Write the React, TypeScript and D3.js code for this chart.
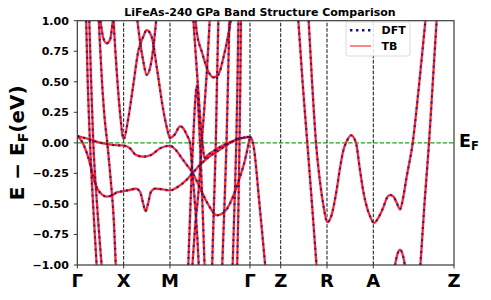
import React, { useEffect, useRef } from "react";
import * as d3 from "d3";

// k-path positions of the high-symmetry points (units of |ΓX|)
const kPoints = [0, 1, 2, 3.726, 4.388, 5.387, 6.386, 8.127];
const kLabels = ["Γ", "X", "M", "Γ", "Z", "R", "A", "Z"];
const yTicks = [-1, -0.75, -0.5, -0.25, 0, 0.25, 0.5, 0.75, 1];

// bands: [k, E - EF]
const bandH = [[0, 0.055], [0.101, 0.01], [0.203, -0.08], [0.274, -0.17], [0.345, -0.28], [0.425, -0.37], [0.526, -0.42], [0.634, -0.44], [0.749, -0.43], [0.857, -0.405], [1.0, -0.395], [1.137, -0.385], [1.266, -0.375], [1.353, -0.4], [1.417, -0.49], [1.471, -0.56], [1.525, -0.5], [1.59, -0.4], [1.676, -0.375], [1.827, -0.38], [2.0, -0.39], [2.129, -0.37], [2.324, -0.315], [2.518, -0.235], [2.647, -0.18], [2.777, -0.135], [2.934, -0.09], [3.079, -0.055], [3.251, -0.01], [3.51, 0.035], [3.726, 0.05]];
const bandF = [[0, 0.055], [0.203, 0.035], [0.419, 0.009], [0.634, -0.01], [0.857, -0.02], [1.0, -0.022], [1.137, -0.045], [1.266, -0.1], [1.417, -0.113], [1.59, -0.1], [1.784, -0.045], [2.0, -0.024], [2.129, -0.06], [2.252, -0.124], [2.36, -0.18], [2.468, -0.233], [2.615, -0.343], [2.826, -0.506], [3.008, -0.593], [3.187, -0.56], [3.402, -0.4], [3.51, -0.28], [3.618, -0.14], [3.726, 0.05]];
const bandXM = [[0.777, 1.05], [0.813, 0.8], [0.857, 0.55], [0.921, 0.25], [1.0, 0.03], [1.1, 0.2], [1.208, 0.475], [1.316, 0.75], [1.424, 0.87], [1.497, 0.923], [1.605, 0.868], [1.713, 0.623], [1.855, 0.268], [1.935, 0.12], [2.0, 0.04], [2.106, 0.07], [2.215, 0.135], [2.287, 0.12], [2.36, 0.066], [2.431, 0.0], [2.485, -0.25], [2.539, -0.5], [2.593, -0.8], [2.626, -1.05]];
const bandB = [[1.282, 1.05], [1.353, 0.83], [1.424, 0.667], [1.497, 0.557], [1.569, 0.612], [1.64, 0.776], [1.713, 1.05]];
const bandC = [[0.485, 1.05], [0.561, 0.858], [0.634, 0.815], [0.706, 0.844], [0.777, 1.05]];
const bandD = [[0.457, 1.05], [0.49, 0.8], [0.533, 0.5], [0.59, 0.2], [0.647, 0.0], [0.72, -0.3], [0.79, -0.65], [0.835, -1.05]];
const bandL1 = [[0.188, 1.05], [0.225, 0.5], [0.274, 0.0], [0.34, -0.5], [0.425, -1.05]];
const bandL2 = [[0.255, 1.05], [0.298, 0.5], [0.345, 0.0], [0.425, -0.5], [0.535, -1.05]];
const bandP = [[2.54, 1.05], [2.576, 0.91], [2.684, 0.749], [2.826, 0.585], [2.934, 0.536], [3.042, 0.557], [3.15, 0.694], [3.258, 0.885], [3.331, 1.05]];
const bandSpike = [[2.39, -1.05], [2.442, -0.5], [2.485, -0.1], [2.529, 0.25], [2.576, 0.47], [2.615, 0.25], [2.647, 0.0], [2.69, -0.4], [2.75, -1.05]];
const bandV = [[2.496, 1.05], [2.55, 0.75], [2.615, 0.4], [2.669, 0.12], [2.712, -0.04], [2.74, -0.125], [2.8, -0.105], [2.95, -0.065], [3.1, -0.03], [3.3, 0.005], [3.5, 0.035], [3.726, 0.05]];
const bandS = [[2.475, -1.05], [2.539, -0.7], [2.626, -0.35], [2.684, 0.0], [2.734, 0.25], [2.798, 0.6], [2.863, 1.05]];
const bandT1 = [[2.906, -1.05], [2.949, -0.5], [2.988, 0.0], [3.014, 0.5], [3.046, 1.05]];
const bandT2 = [[3.122, -1.05], [3.176, -0.5], [3.219, 0.0], [3.251, 0.5], [3.284, 1.05]];
const bandT3 = [[3.348, -1.05], [3.392, -0.5], [3.43, 0.0], [3.456, 0.5], [3.478, 1.05]];
const bandT4 = [[3.446, -1.05], [3.478, -0.5], [3.499, 0.0], [3.517, 0.5], [3.532, 1.05]];
const bandR1 = [[3.726, 0.05], [3.77, 0.025], [3.8, -0.02], [3.93, -0.5], [4.065, -1.05]];
const bandR2 = [[4.76, 1.05], [4.86, 0.5], [4.962, 0.0], [5.063, -0.5], [5.17, -1.05]];
const bandR3 = [[4.984, 1.05], [5.065, 0.5], [5.15, 0.0], [5.23, -0.3], [5.307, -0.506], [5.394, -0.65], [5.489, -0.588], [5.58, -0.42], [5.668, -0.206], [5.74, -0.06], [5.812, 0.012], [5.905, 0.062], [6.013, 0.0], [6.09, -0.2], [6.17, -0.397], [6.25, -0.53], [6.315, -0.6], [6.401, -0.656], [6.5, -0.61], [6.6, -0.53], [6.68, -0.45], [6.747, -0.427], [6.82, -0.44], [6.89, -0.49], [6.963, -0.544], [7.03, -0.45], [7.1, -0.29], [7.236, 0.0], [7.38, 0.5], [7.523, 1.05]];
const bandR4 = [[7.394, -1.05], [7.49, -0.5], [7.588, 0.0], [7.67, 0.5], [7.76, 1.05]];
const bandR5 = [[6.811, -1.1], [6.855, -1.0], [6.908, -0.91], [6.963, -0.875], [7.016, -0.91], [7.066, -1.0], [7.096, -1.1]];

const bands = [bandH, bandF, bandXM, bandB, bandC, bandD, bandL1, bandL2, bandP, bandSpike, bandV, bandS,
  bandT1, bandT2, bandT3, bandT4, bandR1, bandR2, bandR3, bandR4, bandR5];

const font = "DejaVu Sans, sans-serif";
const dftColor = "#10107a";
const tbColor = "#ff0000";

export default function App() {
  const ref = useRef<SVGSVGElement>(null);
  const width = 491;
  const height = 300;
  const margin = { left: 77.3, right: 37, top: 20.7, bottom: 35 };

  useEffect(() => {
    const svg = d3.select(ref.current);
    svg.selectAll("*").remove();

    const x = d3.scaleLinear().domain([0, kPoints[kPoints.length - 1]]).range([margin.left, width - margin.right]);
    const y = d3.scaleLinear().domain([-1, 1]).range([height - margin.bottom, margin.top]);

    svg.append("defs").append("clipPath").attr("id", "plot-clip")
      .append("rect")
      .attr("x", x.range()[0]).attr("y", y.range()[1])
      .attr("width", x.range()[1] - x.range()[0])
      .attr("height", y.range()[0] - y.range()[1]);

    // guides
    svg.append("g").selectAll("line")
      .data(kPoints.slice(1, -1))
      .join("line")
      .attr("x1", d => x(d)).attr("x2", d => x(d))
      .attr("y1", y(-1)).attr("y2", y(1))
      .attr("stroke", "#111").attr("stroke-width", 1)
      .attr("stroke-dasharray", "3.7,1.6");
    svg.append("line")
      .attr("x1", x.range()[0]).attr("x2", x.range()[1])
      .attr("y1", y(0)).attr("y2", y(0))
      .attr("stroke", "#22a022").attr("stroke-width", 1.2)
      .attr("stroke-dasharray", "4.4,1.9");

    const line = d3.line<number[]>()
      .x(d => x(d[0]))
      .y(d => y(d[1]))
      .curve(d3.curveMonotoneX);
    const path = (d: number[][]) => line(d.slice().sort((a, b) => a[0] - b[0]));

    const g = svg.append("g").attr("clip-path", "url(#plot-clip)");
    // soft halo, TB solid, DFT dotted on top
    g.selectAll("path.halo").data(bands).join("path")
      .attr("class", "halo")
      .attr("d", path)
      .attr("fill", "none").attr("stroke", "#c4c4ee").attr("stroke-width", 3.8).attr("stroke-opacity", 0.35);
    g.selectAll("path.tb").data(bands).join("path")
      .attr("class", "tb")
      .attr("d", path)
      .attr("fill", "none").attr("stroke", tbColor).attr("stroke-width", 2.1).attr("stroke-opacity", 0.85);
    g.selectAll("path.dft").data(bands).join("path")
      .attr("class", "dft")
      .attr("d", path)
      .attr("fill", "none").attr("stroke", dftColor).attr("stroke-width", 2.2)
      .attr("stroke-dasharray", "2,4").attr("stroke-opacity", 0.75);

    // frame
    svg.append("rect")
      .attr("x", x.range()[0]).attr("y", y.range()[1])
      .attr("width", x.range()[1] - x.range()[0])
      .attr("height", y.range()[0] - y.range()[1])
      .attr("fill", "none").attr("stroke", "#3a3a3a").attr("stroke-width", 1.2);

    // y axis
    const yAxis = svg.append("g");
    yAxis.selectAll("line").data(yTicks).join("line")
      .attr("x1", x.range()[0] - 3.5).attr("x2", x.range()[0])
      .attr("y1", d => y(d)).attr("y2", d => y(d))
      .attr("stroke", "#3a3a3a").attr("stroke-width", 1);
    yAxis.selectAll("text").data(yTicks).join("text")
      .attr("x", x.range()[0] - 8.5).attr("y", d => y(d)).attr("dy", "0.36em")
      .attr("text-anchor", "end")
      .attr("font-family", font).attr("font-weight", "bold").attr("font-size", 11)
      .text(d => d3.format(".2f")(d).replace("-", "\u2212"));

    // x axis
    const xAxis = svg.append("g");
    xAxis.selectAll("line").data(kPoints).join("line")
      .attr("x1", d => x(d)).attr("x2", d => x(d))
      .attr("y1", y(-1)).attr("y2", y(-1) + 3.5)
      .attr("stroke", "#3a3a3a").attr("stroke-width", 1);
    xAxis.selectAll("text").data(kPoints).join("text")
      .attr("x", d => x(d)).attr("y", y(-1) + 22.3)
      .attr("text-anchor", "middle")
      .attr("font-family", font).attr("font-weight", "bold").attr("font-size", 18)
      .text((d, i) => kLabels[i]);

    // title
    svg.append("text")
      .attr("x", 260).attr("y", 15.6)
      .attr("text-anchor", "middle")
      .attr("font-family", font).attr("font-weight", "bold").attr("font-size", 11)
      .text("LiFeAs-240 GPa Band Structure Comparison");

    // y label
    const yl = svg.append("text")
      .attr("transform", `translate(23.5,${y(0)}) rotate(-90)`)
      .attr("text-anchor", "middle")
      .attr("font-family", font).attr("font-weight", "bold").attr("font-size", 20);
    yl.append("tspan").text("E \u2212 E");
    yl.append("tspan").attr("dy", 4).attr("font-size", 14).text("F");
    yl.append("tspan").attr("dy", -4).text("(eV)");

    // EF marker on the right
    const ef = svg.append("text")
      .attr("x", x.range()[1] + 5).attr("y", y(0) + 4)
      .attr("font-family", font).attr("font-weight", "bold").attr("font-size", 17.5);
    ef.append("tspan").text("E");
    ef.append("tspan").attr("dy", 3.3).attr("font-size", 11.5).text("F");

    // legend
    const lg = svg.append("g").attr("transform", "translate(346,22)");
    lg.append("rect")
      .attr("width", 64).attr("height", 34).attr("rx", 2)
      .attr("fill", "white").attr("fill-opacity", 0.85)
      .attr("stroke", "#d0d0d0").attr("stroke-width", 0.8);
    lg.append("line").attr("x1", 4).attr("x2", 25).attr("y1", 8.3).attr("y2", 8.3)
      .attr("stroke", dftColor).attr("stroke-width", 2.6).attr("stroke-dasharray", "2.4,3.6");
    lg.append("line").attr("x1", 4).attr("x2", 25).attr("y1", 24).attr("y2", 24)
      .attr("stroke", tbColor).attr("stroke-width", 1.2).attr("stroke-opacity", 0.8);
    lg.append("text").attr("x", 35.5).attr("y", 8.3).attr("dy", "0.36em")
      .attr("font-family", font).attr("font-weight", "bold").attr("font-size", 11).text("DFT");
    lg.append("text").attr("x", 35.5).attr("y", 24).attr("dy", "0.36em")
      .attr("font-family", font).attr("font-weight", "bold").attr("font-size", 11).text("TB");
  }, []);

  return (
    <svg ref={ref} width={width} height={height}
      style={{ position: "absolute", left: 0, top: 0, background: "white" }} />
  );
}
